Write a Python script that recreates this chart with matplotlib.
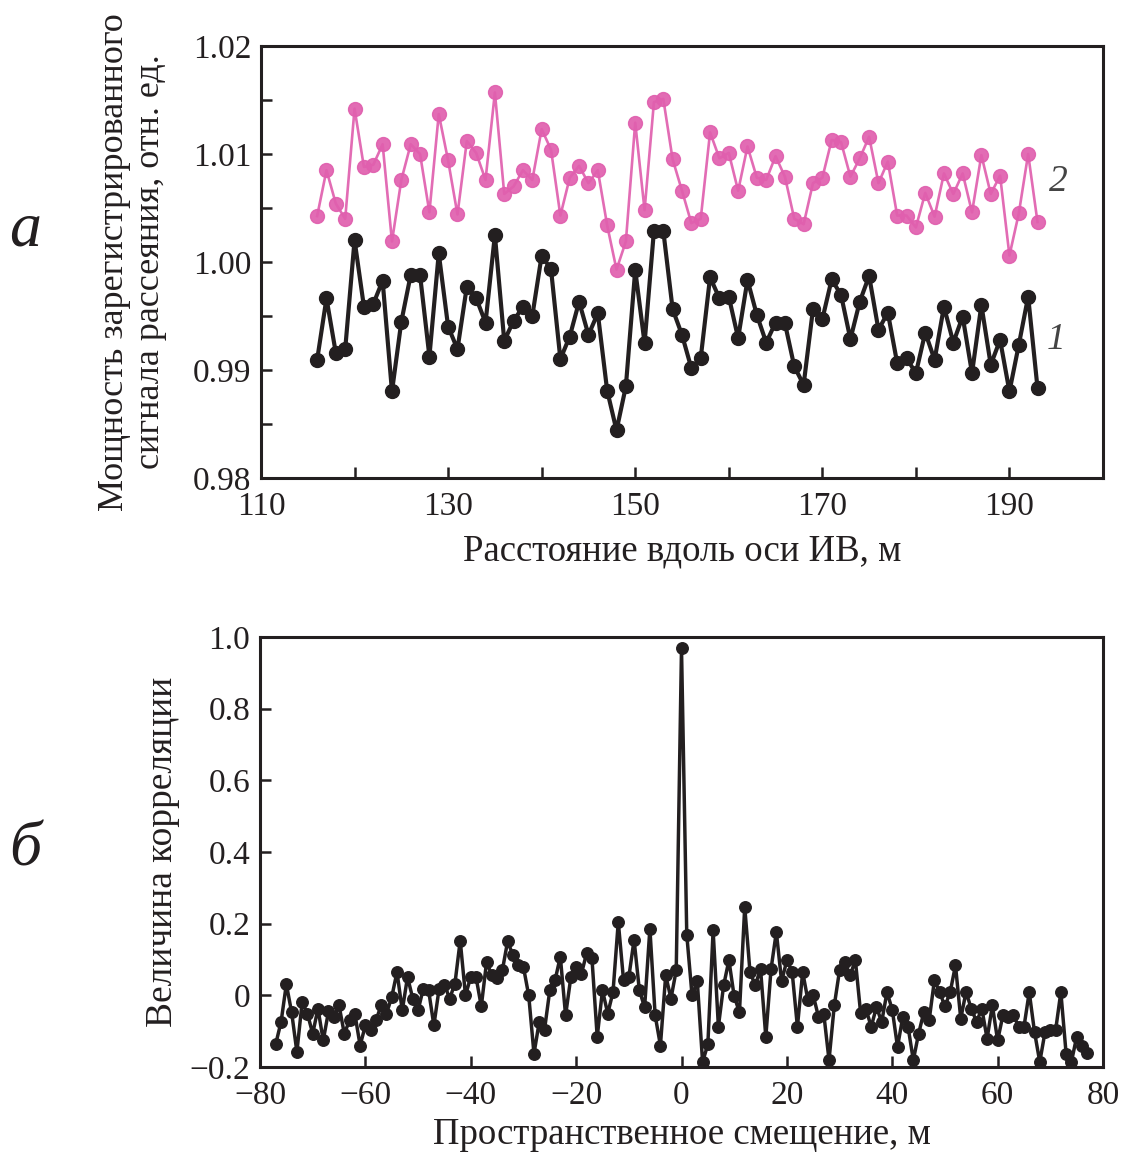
import numpy as np
import matplotlib
matplotlib.use("Agg")
import matplotlib.pyplot as plt
from matplotlib.ticker import MultipleLocator, FuncFormatter

# ---------------- data: panel a ----------------
distance_m = list(range(116, 194))  # 116..193 m

power_curve1 = [
    0.99094, 0.99664, 0.99156, 0.99193, 1.00203, 0.99587, 0.99612, 0.99827, 0.98801, 0.99448,
    0.99880, 0.99880, 0.99125, 1.00080, 0.99402, 0.99193, 0.99772, 0.99664, 0.99439, 1.00250,
    0.99270, 0.99455, 0.99587, 0.99501, 1.00060, 0.99932, 0.99101, 0.99310, 0.99633, 0.99325,
    0.99526, 0.98810, 0.98441, 0.98848, 0.99926, 0.99248, 1.00290, 1.00290, 0.99563, 0.99325,
    0.99017, 0.99110, 0.99859, 0.99664, 0.99680, 0.99295, 0.99834, 0.99510, 0.99254, 0.99439,
    0.99433, 0.99033, 0.98863, 0.99563, 0.99470, 0.99840, 0.99695, 0.99285, 0.99633, 0.99871,
    0.99372, 0.99532, 0.99064, 0.99110, 0.98971, 0.99347, 0.99094, 0.99587, 0.99254, 0.99495,
    0.98971, 0.99603, 0.99048, 0.99279, 0.98801, 0.99233, 0.99680, 0.98833,
]

power_curve2 = [
    1.00425, 1.00850, 1.00540, 1.00400, 1.01420, 1.00880, 1.00900, 1.01090, 1.00190, 1.00760,
    1.01090, 1.01000, 1.00460, 1.01370, 1.00940, 1.00440, 1.01120, 1.01010, 1.00760, 1.01570,
    1.00630, 1.00700, 1.00850, 1.00760, 1.01230, 1.01040, 1.00430, 1.00780, 1.00890, 1.00730,
    1.00850, 1.00340, 0.99930, 1.00190, 1.01290, 1.00480, 1.01480, 1.01510, 1.00950, 1.00660,
    1.00360, 1.00400, 1.01200, 1.00960, 1.01010, 1.00660, 1.01070, 1.00780, 1.00760, 1.00980,
    1.00790, 1.00400, 1.00350, 1.00730, 1.00780, 1.01130, 1.01110, 1.00790, 1.00960, 1.01160,
    1.00730, 1.00930, 1.00430, 1.00430, 1.00320, 1.00640, 1.00420, 1.00820, 1.00630, 1.00820,
    1.00460, 1.00990, 1.00630, 1.00800, 1.00060, 1.00450, 1.01000, 1.00370,
]

# ---------------- data: panel b ----------------
lag_m = list(range(-77, 78))  # -77..77 m

correlation = [
    # -77 .. -68
    -0.135, -0.074, 0.031, -0.047, -0.158, -0.019, -0.051, -0.107, -0.037, -0.126,
    # -67 .. -58
    -0.045, -0.060, -0.028, -0.107, -0.070, -0.051, -0.140, -0.084, -0.098, -0.070,
    # -57 .. -48
    -0.028, -0.051, -0.005, 0.065, -0.042, 0.051, -0.009, -0.042, 0.019, 0.014,
    # -47 .. -38
    -0.084, 0.019, 0.030, -0.009, 0.033, 0.153, 0.000, 0.051, 0.051, -0.031,
    # -37 .. -28
    0.093, 0.056, 0.047, 0.070, 0.151, 0.112, 0.084, 0.079, 0.000, -0.163,
    # -27 .. -18
    -0.074, -0.096, 0.014, 0.042, 0.108, -0.056, 0.051, 0.079, 0.060, 0.118,
    # -17 .. -8
    0.104, -0.116, 0.014, -0.051, 0.009, 0.205, 0.042, 0.051, 0.155, 0.014,
    # -7 .. 2
    -0.033, 0.186, -0.056, -0.140, 0.056, -0.009, 0.070, 0.969, 0.169, 0.000,
    # 3 .. 12
    0.039, -0.186, -0.137, 0.181, -0.087, 0.028, 0.098, -0.003, -0.047, 0.247,
    # 13 .. 22
    0.065, 0.028, 0.074, -0.116, 0.074, 0.177, 0.039, 0.098, 0.065, -0.088,
    # 23 .. 32
    0.065, -0.014, 0.000, -0.060, -0.051, -0.181, -0.028, 0.070, 0.093, 0.056,
    # 33 .. 42
    0.098, -0.050, -0.037, -0.088, -0.033, -0.074, 0.009, -0.040, -0.144, -0.060,
    # 43 .. 52
    -0.088, -0.181, -0.107, -0.047, -0.070, 0.042, 0.009, -0.031, 0.009, 0.084,
    # 53 .. 62
    -0.065, 0.009, -0.037, -0.074, -0.037, -0.121, -0.028, -0.126, -0.056, -0.060,
    # 63 .. 72
    -0.056, -0.087, -0.088, 0.009, -0.102, -0.186, -0.102, -0.098, -0.098, 0.009,
    # 73 .. 77
    -0.163, -0.186, -0.116, -0.140, -0.160,
]

top_xticks = [110, 130, 150, 170, 190]
top_yticks = [0.98, 0.99, 1.00, 1.01, 1.02]
bot_xticks = [-80, -60, -40, -20, 0, 20, 40, 60, 80]
bot_yticks = [-0.2, 0, 0.2, 0.4, 0.6, 0.8, 1.0]

PINK = "#e05fae"
INK = "#231f20"

plt.rcParams["font.family"] = ["Liberation Serif", "DejaVu Serif"]

fig = plt.figure(figsize=(11.24, 11.57), dpi=100)
W, H = 1124, 1157


def px_axes(left, top, right, bottom):
    return fig.add_axes([left / W, 1 - bottom / H, (right - left) / W, (bottom - top) / H])


def style(ax):
    for s in ax.spines.values():
        s.set_linewidth(2.2)
        s.set_color(INK)
    ax.tick_params(which="both", direction="in", length=8, width=1.8,
                   colors=INK, labelsize=24, top=False, right=False)
    ax.tick_params(axis="x", pad=10)
    ax.tick_params(axis="y", pad=7)


# ---------------- panel a ----------------
ax1 = px_axes(261, 46, 1103, 478)
ax1.plot(distance_m, power_curve2, "-o", color=PINK, lw=1.9, ms=10,
         markerfacecolor=PINK, markeredgecolor=PINK, alpha=0.92, zorder=3)
ax1.plot(distance_m, power_curve1, "-o", color=INK, lw=3.0, ms=10,
         markerfacecolor=INK, markeredgecolor=INK, zorder=4)
ax1.set_xlim(110, 200)
ax1.set_ylim(0.98, 1.02)
ax1.xaxis.set_major_locator(MultipleLocator(10))
ax1.yaxis.set_major_locator(MultipleLocator(0.005))
ax1.xaxis.set_major_formatter(FuncFormatter(
    lambda v, p: f"{int(round(v))}" if int(round(v)) in top_xticks else ""))
ax1.yaxis.set_major_formatter(FuncFormatter(
    lambda v, p: f"{v:.2f}" if any(abs(v - t) < 1e-6 for t in top_yticks) else ""))
style(ax1)
ax1.set_xlabel("Расстояние вдоль оси ИВ, м", fontsize=26.5, color=INK)
ax1.set_ylabel("Мощность зарегистрированного\nсигнала рассеяния, отн. ед.",
               fontsize=26, linespacing=1.12, color=INK)
ax1.xaxis.set_label_coords(0.5, -0.13)
ax1.yaxis.set_label_coords(-0.112, 0.5)
ax1.text(195.2, 1.0074, "2", fontsize=27, style="italic", color="#444444",
         ha="center", va="center")
ax1.text(195.0, 0.9928, "1", fontsize=27, style="italic", color="#444444",
         ha="center", va="center")

# ---------------- panel b ----------------
ax2 = px_axes(260, 637, 1103, 1067)
ax2.plot(lag_m, correlation, "-o", color=INK, lw=2.5, ms=8.3,
         markerfacecolor=INK, markeredgecolor=INK, zorder=3)
ax2.set_xlim(-80, 80)
ax2.set_ylim(-0.2, 1.0)
ax2.set_xticks(bot_xticks)
ax2.set_yticks(bot_yticks)
ax2.xaxis.set_major_formatter(FuncFormatter(
    lambda v, p: ("\u2212" if v < 0 else "") + f"{abs(int(round(v)))}"))
ax2.yaxis.set_major_formatter(FuncFormatter(
    lambda v, p: "0" if abs(v) < 1e-9 else ("\u2212" if v < 0 else "") + f"{abs(v):.1f}"))
style(ax2)
ax2.set_xlabel("Пространственное смещение, м", fontsize=26.5, color=INK)
ax2.set_ylabel("Величина корреляции", fontsize=27, color=INK)
ax2.xaxis.set_label_coords(0.5, -0.118)
ax2.yaxis.set_label_coords(-0.095, 0.5)

# panel letters
fig.text(25 / W, 1 - 230 / H, "а", fontsize=46, style="italic", ha="center", va="center",
         color=INK)
fig.text(25 / W, 1 - 850 / H, "б", fontsize=46, style="italic", ha="center", va="center",
         color=INK)

fig.savefig("out.png", dpi=100, facecolor="white")
